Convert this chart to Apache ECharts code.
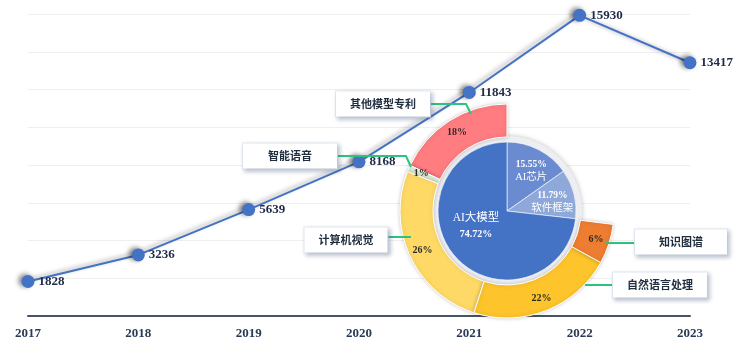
<!DOCTYPE html>
<html>
<head>
<meta charset="utf-8">
<script src="https://cdn.jsdelivr.net/npm/echarts@6/dist/echarts.min.js"></script>
<style>
  html, body { margin: 0; padding: 0; background: #fff; }
  #chart { width: 736px; height: 351px; }
</style>
</head>
<body>
<div id="chart"></div>
<script>
const years = ['2017', '2018', '2019', '2020', '2021', '2022', '2023']
const patentCounts = [1828, 3236, 5639, 8168, 11843, 15930, 13417]

// 外环：各技术方向占比（%），其余部分留空
const fieldNames = ['其他模型专利', '智能语音', '计算机视觉', '自然语言处理', '知识图谱']
const fieldShares = [18, 1, 26, 22, 6]
const fieldGap = 27

// 内饼：AI 大模型 / 芯片 / 软件框架（%）
const coreNames = ['AI芯片', '软件框架', 'AI大模型']
const coreShares = [15.55, 11.79, 74.72]

const fieldColors = ['#ff7c80', '#e2f0d9', '#ffd966', '#fdc42b', '#ed7d31']
const coreColors = ['#6a8bd0', '#8fa8da', '#4472c4']

// 标注框位置与引导线
const callouts = {
  '其他模型专利': { x: 383, y: 104, w: 94, line: [[471, 114], [466, 104], [430, 104]] },
  '智能语音': { x: 290, y: 156, w: 94, line: [[411, 167], [406, 156], [337, 156]] },
  '计算机视觉': { x: 346, y: 240, w: 83, line: [[411, 237], [400, 237], [388, 237]] },
  '自然语言处理': { x: 660, y: 285, w: 94, line: [[585, 285], [600, 285], [613, 285]] },
  '知识图谱': { x: 681, y: 242, w: 92, line: [[605, 243], [620, 243], [635, 243]] },
}
const coreLabelShift = [[7, -7], [9, 0], [-3, -10]]

const serif = "'Times New Roman', 'Liberation Serif', serif"
const cjk = "'Noto Sans CJK SC', sans-serif"
const center = [507, 211]

const ringData = fieldNames.map((n, i) => ({
  name: n,
  value: fieldShares[i],
  itemStyle: { color: fieldColors[i] },
}))
const gapItem = {
  name: '',
  value: fieldGap,
  itemStyle: { color: 'transparent', borderWidth: 0, shadowBlur: 0 },
  label: { show: false },
  labelLine: { show: false },
}

const chart = echarts.init(document.getElementById('chart'))
chart.setOption({
  animation: false,
  grid: { left: 28, right: 46, top: 14, bottom: 35 },
  xAxis: {
    type: 'category',
    data: years,
    boundaryGap: false,
    axisTick: { show: false },
    axisLine: { lineStyle: { color: '#44546a', width: 2 } },
    axisLabel: { color: '#2b3a55', fontFamily: serif, fontWeight: 'bold', fontSize: 13, margin: 11 },
  },
  yAxis: {
    type: 'value',
    min: 0,
    max: 16000,
    interval: 2000,
    axisLabel: { show: false },
    axisLine: { show: false },
    axisTick: { show: false },
    splitLine: { lineStyle: { color: '#efefef', width: 1 } },
  },
  series: [
    {
      type: 'line',
      data: patentCounts,
      z: 2,
      symbol: 'circle',
      symbolSize: 13,
      itemStyle: {
        color: '#4472c4',
        shadowColor: 'rgba(0,0,0,0.5)',
        shadowBlur: 5,
        shadowOffsetX: -3,
        shadowOffsetY: -1,
      },
      lineStyle: {
        color: '#4472c4',
        width: 2,
        shadowColor: 'rgba(0,0,0,0.35)',
        shadowBlur: 4,
        shadowOffsetX: -3,
        shadowOffsetY: -1,
      },
      label: {
        show: true,
        position: 'right',
        distance: 4,
        color: '#1e2a48',
        fontFamily: serif,
        fontWeight: 'bold',
        fontSize: 13,
      },
    },
    // 内饼底部浅灰圆盘
    {
      type: 'pie',
      z: 3,
      silent: true,
      center: center,
      radius: [0, 75],
      label: { show: false },
      itemStyle: { color: '#eceef2', shadowColor: 'rgba(0,0,0,0.25)', shadowBlur: 5 },
      data: [{ value: 1, name: 'bg' }],
    },
    {
      type: 'pie',
      z: 4,
      center: center,
      radius: [0, 69],
      startAngle: 90,
      data: coreNames.map((n, i) => ({
        name: n,
        value: coreShares[i],
        itemStyle: { color: coreColors[i] },
      })),
      itemStyle: { borderColor: 'rgba(255,255,255,0.6)', borderWidth: 1 },
      label: {
        show: true,
        position: 'inside',
        formatter: (p) => p.name === 'AI大模型'
          ? '{N|' + p.name + '}\n{P|' + p.value + '%}'
          : '{p|' + p.value + '%}\n{n|' + p.name + '}',
        rich: {
          p: { color: '#fff', fontFamily: serif, fontWeight: 'bold', fontSize: 9.5, lineHeight: 13 },
          n: { color: '#fff', fontFamily: serif + ', ' + cjk, fontSize: 10.5, lineHeight: 13 },
          P: { color: '#fff', fontFamily: serif, fontWeight: 'bold', fontSize: 10, lineHeight: 17 },
          N: { color: '#fff', fontFamily: serif + ', ' + cjk, fontSize: 11.5, lineHeight: 17 },
        },
      },
      labelLayout: (p) => ({ dx: coreLabelShift[p.dataIndex][0], dy: coreLabelShift[p.dataIndex][1] }),
    },
    // 外环，显示百分比
    {
      type: 'pie',
      z: 4,
      center: center,
      radius: [74, 107],
      startAngle: 90,
      clockwise: false,
      avoidLabelOverlap: false,
      data: ringData.concat([gapItem]),
      itemStyle: { borderColor: '#fff', borderWidth: 1, shadowColor: 'rgba(0,0,0,0.2)', shadowBlur: 4 },
      label: {
        show: true,
        position: 'inside',
        formatter: '{c}%',
        color: '#2a2a2a',
        fontFamily: serif,
        fontWeight: 'bold',
        fontSize: 10,
      },
    },
    // 外环标注框
    {
      type: 'pie',
      z: 5,
      silent: true,
      center: center,
      radius: [74, 107],
      startAngle: 90,
      clockwise: false,
      avoidLabelOverlap: false,
      data: fieldNames.map((n, i) => ({
        name: n,
        value: fieldShares[i],
        label: { width: callouts[n].w },
      })).concat([gapItem]),
      itemStyle: { color: 'transparent' },
      label: {
        show: true,
        position: 'outside',
        formatter: '{b}',
        color: '#1f2d3d',
        fontFamily: cjk,
        fontWeight: 'bold',
        fontSize: 11,
        lineHeight: 13,
        align: 'center',
        padding: [6, 0],
        backgroundColor: '#fff',
        borderColor: '#e4e9f1',
        borderWidth: 1,
        shadowColor: 'rgba(70,90,130,0.3)',
        shadowBlur: 4,
        shadowOffsetX: 2,
        shadowOffsetY: 2,
      },
      labelLine: { show: true, length: 10, length2: 10, lineStyle: { color: '#2ec27e', width: 2 } },
      labelLayout: (p) => {
        const c = callouts[fieldNames[p.dataIndex]]
        if (!c) return {}
        return { x: c.x, y: c.y, align: 'center', verticalAlign: 'middle', labelLinePoints: c.line }
      },
    },
  ],
})
</script>
</body>
</html>
